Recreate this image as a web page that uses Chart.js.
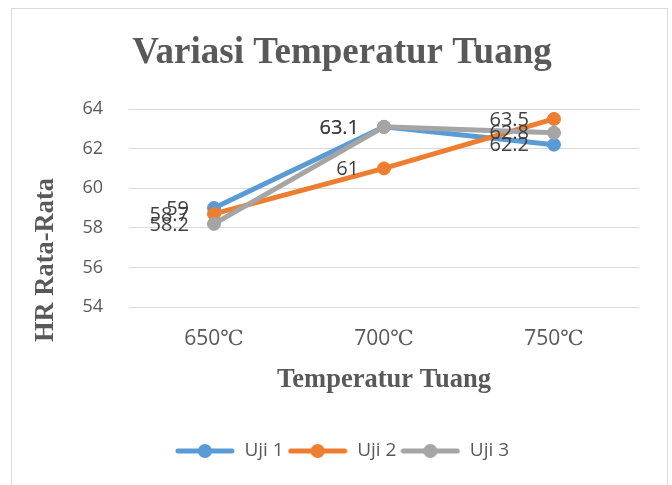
<!DOCTYPE html>
<html><head><meta charset="utf-8">
<script src="https://cdn.jsdelivr.net/npm/chart.js@4"></script>
<style>html,body{margin:0;padding:0;background:#fff;}#wrap{width:672px;height:485px;}</style>
</head><body><div id="wrap"><canvas id="c" width="672" height="485"></canvas></div>
<script>
const categories = ['650℃', '700℃', '750℃'];
const uji1 = [59, 63.1, 62.2];
const uji2 = [58.7, 61, 63.5];
const uji3 = [58.2, 63.1, 62.8];
const seriesNames = ['Uji 1', 'Uji 2', 'Uji 3'];
const seriesColors = ['#5B9BD5', '#ED7D31', '#A5A5A5'];
const yTicks = [54, 56, 58, 60, 62, 64];
const yTitle = 'HR Rata-Rata';

const SANS = '"Open Sans", "DejaVu Serif", sans-serif';
const SERIF = '"Liberation Serif", "Times New Roman", serif';

function legendImg(color) {
  const c = document.createElement('canvas');
  c.width = 60; c.height = 16;
  const x = c.getContext('2d');
  x.strokeStyle = color; x.lineWidth = 5; x.lineCap = 'round';
  x.beginPath(); x.moveTo(3, 8); x.lineTo(57, 8); x.stroke();
  x.fillStyle = color; x.beginPath(); x.arc(30, 8, 7, 0, Math.PI * 2); x.fill();
  return c;
}
const legendImgs = seriesColors.map(legendImg);

const frame = {
  id: 'frame',
  beforeDraw(chart) {
    const ctx = chart.ctx;
    ctx.save();
    ctx.fillStyle = '#fff';
    ctx.fillRect(0, 0, chart.width, chart.height);
    ctx.strokeStyle = '#d9d9d9';
    ctx.lineWidth = 1;
    ctx.strokeRect(11.5, 8.5, 656, 490);
    ctx.restore();
  },
  afterDraw(chart) {
    const ctx = chart.ctx;
    ctx.save();
    ctx.translate(46, 260);
    ctx.rotate(-Math.PI / 2);
    ctx.font = 'bold 26.5px ' + SERIF;
    ctx.fillStyle = '#595959';
    ctx.textAlign = 'center';
    ctx.textBaseline = 'middle';
    ctx.fillText(yTitle, 0, 0);
    ctx.restore();
  }
};

const dataLabels = {
  id: 'dataLabels',
  afterDatasetsDraw(chart) {
    const ctx = chart.ctx;
    ctx.save();
    ctx.font = '20px ' + SANS;
    ctx.fillStyle = '#404040';
    ctx.textAlign = 'right';
    ctx.textBaseline = 'middle';
    chart.data.datasets.forEach((ds, i) => {
      const meta = chart.getDatasetMeta(i);
      meta.data.forEach((pt, j) => {
        ctx.fillText(String(ds.data[j]), pt.x - 25, pt.y + 1);
      });
    });
    ctx.restore();
  }
};

const allSeries = [uji1, uji2, uji3];
new Chart(document.getElementById('c'), {
  type: 'line',
  data: {
    labels: categories,
    datasets: allSeries.map((d, i) => ({
      label: seriesNames[i],
      data: d,
      yAxisID: 'y',
      borderColor: seriesColors[i],
      backgroundColor: seriesColors[i],
      pointBackgroundColor: seriesColors[i],
      pointBorderColor: seriesColors[i],
      borderWidth: 5,
      pointRadius: 6.5,
      pointBorderWidth: 1,
      tension: 0,
      order: 3 - i
    }))
  },
  options: {
    responsive: false,
    devicePixelRatio: 1,
    animation: false,
    layout: { padding: { top: 10, left: 12, right: 0, bottom: 14.5 } },
    plugins: {
      tooltip: { enabled: false },
      title: {
        display: true,
        text: 'Variasi Temperatur Tuang',
        color: '#595959',
        font: { family: SERIF, size: 37, weight: 'bold' },
        padding: { top: 20.8, bottom: 33.8 }
      },
      legend: {
        position: 'bottom',
        labels: {
          usePointStyle: true,
          pointStyleWidth: 60,
          boxHeight: 16,
          padding: 4,
          color: '#595959',
          font: { family: SANS, size: 19 },
          generateLabels(chart) {
            return chart.data.datasets.map((ds, i) => ({
              text: ds.label,
              pointStyle: legendImgs[i],
              fillStyle: seriesColors[i],
              strokeStyle: seriesColors[i],
              lineWidth: 0,
              hidden: false,
              datasetIndex: i,
              fontColor: '#595959'
            }));
          }
        }
      }
    },
    scales: {
      x: {
        offset: true,
        grid: { display: false, drawTicks: false },
        border: { display: false },
        ticks: { padding: 19.4, color: '#595959', font: { family: SANS, size: 21 }, maxRotation: 0, autoSkip: false },
        title: {
          display: true, text: 'Temperatur Tuang', color: '#595959',
          font: { family: SERIF, size: 26.5, weight: 'bold' },
          padding: { top: 0, bottom: 41.6 }
        },
        afterFit(s) { s.height = 130.5; }
      },
      y: {
        min: 54, max: 64,
        grid: { color: '#d9d9d9', lineWidth: 1, drawTicks: false },
        border: { display: false },
        afterBuildTicks(s) { s.ticks = yTicks.map(v => ({ value: v })); },
        ticks: { padding: 26, color: '#595959', font: { family: SANS, size: 18 } },
        afterFit(s) { s.width = 117; }
      },
      yRight: {
        position: 'right',
        grid: { display: false, drawTicks: false },
        border: { display: false },
        ticks: { display: false },
        afterFit(s) { s.width = 33; }
      }
    }
  },
  plugins: [frame, dataLabels]
});
</script>
</body></html>
